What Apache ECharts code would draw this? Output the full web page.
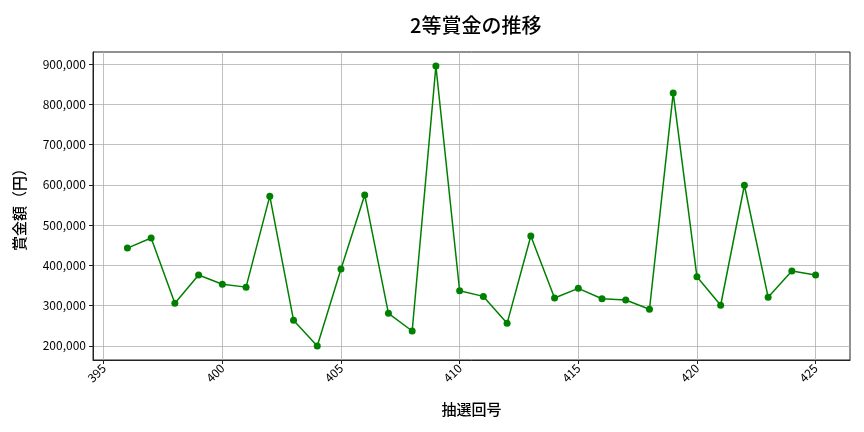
<!DOCTYPE html>
<html>
<head>
<meta charset="utf-8">
<script src="https://cdn.jsdelivr.net/npm/echarts@6/dist/echarts.min.js"></script>
<style>html,body{margin:0;padding:0;background:#fff;}#c{width:864px;height:432px;}</style>
</head>
<body>
<div id="c"></div>
<script>
const draws = [396,397,398,399,400,401,402,403,404,405,406,407,408,409,410,411,412,413,414,415,416,417,418,419,420,421,422,423,424,425];
const prizes = [443000,468000,306000,376000,353000,346000,572000,264000,200000,391000,575000,281000,237000,895000,337000,323000,256000,473000,319000,343000,317000,314000,291000,828000,372000,301000,599000,321000,386000,376000];
const xTicks = [395,400,405,410,415,420,425];
const yTicks = [200000,300000,400000,500000,600000,700000,800000,900000];
const titleText = '2等賞金の推移';
const xName = '抽選回号';
const yName = '賞金額（円）';

const font = "'Noto Sans CJK JP', 'Noto Sans', sans-serif";
const chart = echarts.init(document.getElementById('c'), null, {renderer:'canvas'});
chart.setOption({
  animation:false,
  title:{text:titleText,left:405,top:10,textStyle:{fontFamily:font,fontSize:20,fontWeight:500,color:'#000'}},
  grid:{left:93,right:14,top:52,bottom:72,show:true,borderColor:'#222',borderWidth:1,backgroundColor:'transparent'},
  xAxis:{type:'value',min:394.55,max:426.45,
    name:xName,nameLocation:'middle',nameGap:42,nameTextStyle:{fontFamily:font,fontSize:15,fontWeight:500,color:'#000'},
    axisLine:{show:true,lineStyle:{color:'#222'}},
    axisTick:{show:true,length:4,lineStyle:{color:'#222'},customValues:xTicks},
    axisLabel:{rotate:45,fontFamily:font,fontSize:12,color:'#000',margin:6,customValues:xTicks},
    splitLine:{show:true,lineStyle:{color:'#b0b0b0',width:0.8}}},
  yAxis:{type:'value',min:165000,max:930000,
    name:yName,nameLocation:'middle',nameGap:66,nameRotate:90,nameTextStyle:{fontFamily:font,fontSize:15,fontWeight:500,color:'#000'},
    axisLine:{show:true,lineStyle:{color:'#222'}},
    axisTick:{show:true,length:4,lineStyle:{color:'#222'},customValues:yTicks},
    axisLabel:{fontFamily:font,fontSize:12,color:'#000',margin:7,customValues:yTicks,
      formatter:v=>v.toLocaleString('en-US')},
    splitLine:{show:true,lineStyle:{color:'#b0b0b0',width:0.8}}},
  series:[{type:'line',data:draws.map((d,i)=>[d,prizes[i]]),
    symbol:'circle',symbolSize:7,itemStyle:{color:'#008000'},
    lineStyle:{color:'#008000',width:1.5}}]
});
</script>
</body>
</html>
